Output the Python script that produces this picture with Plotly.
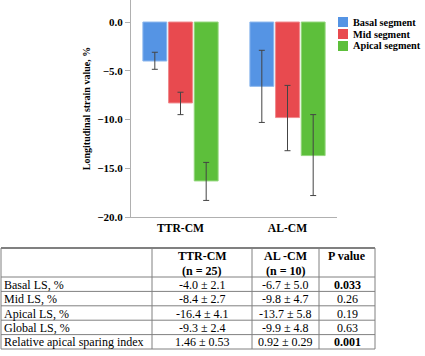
import plotly.graph_objects as go

categories = ["TTR-CM", "AL-CM"]
series_names = ["Basal segment", "Mid segment", "Apical segment"]
basal = [-4.0, -6.6]
mid = [-8.3, -9.8]
apical = [-16.3, -13.7]
basal_up = [0.9, 3.7]
basal_down = [0.85, 3.7]
mid_up = [1.1, 3.3]
mid_down = [1.2, 3.4]
apical_up = [1.9, 4.2]
apical_down = [2.0, 4.1]
y_ticks = [0, -5, -10, -15, -20]

row_labels = ["Basal LS, %", "Mid LS, %", "Apical LS, %", "Global LS, %", "Relative apical sparing index"]
ttr_col = ["-4.0 ± 2.1", "-8.4 ± 2.7", "-16.4 ± 4.1", "-9.3 ± 2.4", "1.46 ± 0.53"]
al_col = ["-6.7 ± 5.0", "-9.8 ± 4.7", "-13.7 ± 5.8", "-9.9 ± 4.8", "0.92 ± 0.29"]
p_vals = ["<b>0.033</b>", "0.26", "0.19", "0.63", "<b>0.001</b>"]
header_line1 = ["", "TTR-CM", "AL -CM", "P value"]
header_line2 = ["", "(n = 25)", "(n = 10)", ""]

colors = ["#5594E4", "#E84A4F", "#5DBF3B"]
edge = ["#8DB8EE", "#F08A8D", "#93D77C"]
SERIF = "'Liberation Serif', 'Times New Roman', Times, serif"
W, H = 425, 356

fig = go.Figure()
vals = [basal, mid, apical]
ups = [basal_up, mid_up, apical_up]
downs = [basal_down, mid_down, apical_down]
for name, v, u, d, c, e in zip(series_names, vals, ups, downs, colors, edge):
    fig.add_trace(go.Bar(
        x=categories, y=v, name=name,
        marker=dict(color=c, line=dict(color=e, width=1)),
        error_y=dict(type="data", array=u, arrayminus=d, symmetric=False,
                     color="#444444", thickness=1, width=3),
        showlegend=False, hoverinfo="skip",
    ))

def px(x):
    return x / W

def py(y):
    return 1 - y / H

# custom legend
for i, (name, c) in enumerate(zip(series_names, colors)):
    yc = 22 + i * 12
    fig.add_shape(type="rect", xref="paper", yref="paper",
                  x0=px(338), x1=px(348), y0=py(yc + 5), y1=py(yc - 5),
                  fillcolor=c, line=dict(width=0))
    fig.add_annotation(xref="paper", yref="paper", x=px(352), y=py(yc),
                       text="<b>" + name + "</b>", showarrow=False, borderpad=0,
                       xanchor="left", yanchor="middle",
                       font=dict(family=SERIF, size=10.3, color="black"))

# table drawn with shapes and annotations
col_edges = [1, 152, 252, 319, 375]
t_top, h_bot, row_h = 248, 277, 14.4
n_rows = len(row_labels)
t_bot = h_bot + n_rows * row_h
grid = "#808080"
TF = 12
fig.add_shape(type="line", xref="paper", yref="paper", x0=px(col_edges[0]), x1=px(col_edges[-1]),
              y0=py(t_top), y1=py(t_top), line=dict(color=grid, width=2))
for r in range(n_rows + 1):
    yy = h_bot + r * row_h
    fig.add_shape(type="line", xref="paper", yref="paper", x0=px(col_edges[0]), x1=px(col_edges[-1]),
                  y0=py(yy), y1=py(yy), line=dict(color=grid, width=1))
for xe in col_edges:
    fig.add_shape(type="line", xref="paper", yref="paper", x0=px(xe), x1=px(xe),
                  y0=py(t_top), y1=py(t_bot), line=dict(color=grid, width=1))
for j in range(len(header_line1)):
    cx = (col_edges[j] + col_edges[j + 1]) / 2
    for txt, yc in ((header_line1[j], 256.3), (header_line2[j], 270.5)):
        if not txt:
            continue
        fig.add_annotation(xref="paper", yref="paper", x=px(cx), y=py(yc),
                           text="<b>" + txt + "</b>", showarrow=False, borderpad=0,
                           xanchor="center", yanchor="middle",
                           font=dict(family=SERIF, size=TF, color="black"))
columns = [row_labels, ttr_col, al_col, p_vals]
for j, col in enumerate(columns):
    for r, txt in enumerate(col):
        yc = h_bot + (r + 0.5) * row_h + 0.5
        if j == 0:
            fig.add_annotation(xref="paper", yref="paper", x=px(col_edges[0] + 2), y=py(yc),
                               text=txt, showarrow=False, borderpad=0,
                               xanchor="left", yanchor="middle",
                               font=dict(family=SERIF, size=TF, color="black"))
        else:
            cx = (col_edges[j] + col_edges[j + 1]) / 2
            fig.add_annotation(xref="paper", yref="paper", x=px(cx), y=py(yc),
                               text=txt, showarrow=False, borderpad=0,
                               xanchor="center", yanchor="middle",
                               font=dict(family=SERIF, size=TF, color="black"))

fig.update_layout(
    width=W, height=H, margin=dict(l=0, r=0, t=0, b=0, autoexpand=False),
    paper_bgcolor="white", plot_bgcolor="white",
    barmode="group", bargap=0.28, bargroupgap=0.07,
    font=dict(family=SERIF, color="black"),
    xaxis=dict(domain=[px(131), px(337)], range=[-0.4626, 1.4626], automargin=False,
               showline=True, linecolor="#B0B0B0", linewidth=1, ticks="",
               showgrid=False, zeroline=False,
               tickfont=dict(family=SERIF, size=11.6, weight="bold")),
    yaxis=dict(domain=[py(217), 1], range=[-20, 2.26], automargin=False,
               showline=True, linecolor="#B0B0B0", linewidth=1,
               ticks="outside", ticklen=5, tickcolor="#B0B0B0",
               tickvals=y_ticks, tickformat=".1f",
               showgrid=False, zeroline=False,
               tickfont=dict(family=SERIF, size=11, weight="bold"),
               title=dict(text="<b>Longitudinal strain value, %</b>", standoff=4,
                          font=dict(family=SERIF, size=10))),
)

fig.write_html("out.html", config={"displayModeBar": False},
               post_script="document.body.style.margin='0';document.body.style.padding='0';")
